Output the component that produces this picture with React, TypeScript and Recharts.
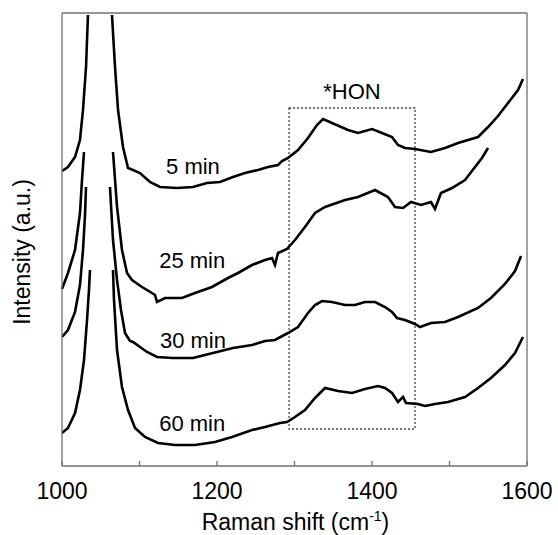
import { LineChart, Line, XAxis, YAxis, ReferenceArea, ReferenceLine, ReferenceDot } from "recharts"

const FONT = "'Liberation Sans', Arial, sans-serif"

// Raman shift (cm-1) and intensity (a.u., offset traces); null = clipped peak
const shift5 = [1000, 1007.7, 1016.8, 1023.2, 1027.1, 1031, 1033.5, 1049, 1064.5, 1068.4, 1072.3, 1078.7, 1085.2, 1091.6, 1100.6, 1113.5, 1126.5, 1148.4, 1169, 1187, 1203.9, 1220.6, 1236, 1252.9, 1265.8, 1278.7, 1283.9, 1291.6, 1304.5, 1317.4, 1329, 1336.8, 1348.4, 1369, 1382, 1400, 1412.9, 1425.8, 1433.5, 1442.6, 1455.5, 1476.1, 1494.2, 1511, 1536.8, 1549.7, 1562.6, 1575.5, 1588.4, 1594.8]
const int5 = [295, 299, 309, 326, 356, 399, 451, null, 451, 399, 356, 319, 298, 296, 293, 284, 279, 278, 279, 283, 284, 289, 293, 296, 299, 301, 305, 308, 316, 328, 341, 347, 343, 336, 333, 337, 333, 329, 321, 318, 317, 314, 318, 323, 329, 339, 350, 363, 376, 387]

const shift25 = [1000, 1007.7, 1016.8, 1023.2, 1025.8, 1028.4, 1047, 1065.8, 1071, 1077.4, 1083.9, 1090.3, 1103.2, 1114, 1120, 1122.6, 1132.9, 1154.8, 1171.6, 1193.5, 1214.2, 1227.1, 1245.2, 1261.9, 1271, 1274.8, 1278.7, 1290.3, 1300.6, 1313.5, 1326.5, 1339.4, 1365.2, 1382, 1403.9, 1420.6, 1429.7, 1440, 1450.3, 1463.2, 1476.1, 1481.3, 1489, 1503.2, 1520, 1532.9, 1541.9, 1549.7]
const int25 = [177, 193, 216, 253, 286, 314, null, 314, 259, 216, 193, 186, 179, 174, 171, 164, 168, 168, 173, 179, 188, 193, 201, 206, 208, 201, 213, 217, 226, 239, 253, 259, 266, 269, 276, 269, 259, 258, 264, 261, 264, 257, 273, 278, 286, 299, 308, 318]

const shift30 = [1000, 1007.7, 1016.8, 1023.2, 1027.1, 1029.7, 1031, 1046, 1061.9, 1065.8, 1071, 1076.1, 1081.3, 1087.7, 1091.6, 1109.7, 1122.6, 1143.2, 1169, 1194.8, 1220.6, 1245.2, 1261.9, 1274.8, 1291.6, 1304.5, 1317.4, 1326.5, 1335.5, 1348.4, 1365.2, 1378, 1391, 1403.9, 1416.8, 1425.8, 1432.3, 1442.6, 1455.5, 1461.9, 1476.1, 1494.2, 1511, 1536.8, 1553.5, 1571.6, 1584.5, 1592.3]
const int30 = [129, 136, 154, 181, 216, 251, 279, null, 279, 226, 186, 156, 133, 125, 124, 114, 109, 108, 108, 113, 118, 121, 125, 126, 133, 139, 153, 161, 165, 164, 161, 161, 164, 164, 159, 154, 148, 146, 142, 139, 143, 144, 149, 158, 168, 182, 195, 210]

const shift60 = [1000, 1007.7, 1016.8, 1023.2, 1028.4, 1032.3, 1034.8, 1036.1, 1051, 1065.8, 1067.1, 1071, 1077.4, 1085.2, 1094.2, 1107.1, 1123.9, 1145.8, 1171.6, 1197.4, 1219.4, 1245.2, 1261.9, 1281.3, 1290.3, 1300.6, 1313.5, 1326.5, 1339.4, 1356.1, 1374.2, 1391, 1407.7, 1416.8, 1425.8, 1433.5, 1440, 1443.9, 1459.4, 1468.4, 1481.3, 1498.1, 1520, 1536.8, 1553.5, 1571.6, 1584.5, 1594.8]
const int60 = [33, 38, 53, 76, 106, 146, 176, 196, null, 196, 166, 116, 79, 56, 38, 29, 23, 21, 21, 24, 29, 36, 39, 43, 44, 49, 56, 68, 78, 75, 73, 77, 80, 78, 73, 64, 69, 63, 62, 60, 62, 64, 69, 78, 88, 101, 113, 129]

const xTicks = [1000, 1100, 1200, 1300, 1400, 1500, 1600]
const timeLabels = ["5 min", "25 min", "30 min", "60 min"]
const hon = { label: "*HON", from: 1293, to: 1455.5 }

const zip = (xs: number[], ys: (number | null)[]) => xs.map((x, i) => ({ x, y: ys[i] }))

const series = [
    { name: "5 min", data: zip(shift5, int5) },
    { name: "25 min", data: zip(shift25, int25) },
    { name: "30 min", data: zip(shift30, int30) },
    { name: "60 min", data: zip(shift60, int60) },
]

// where the time labels sit (data coords)
const labelPos = [
    { x: 1169, y: 300 },
    { x: 1168, y: 206 },
    { x: 1169, y: 126 },
    { x: 1168, y: 43 },
]

const XLabel = (props: any) => {
    const vb = props.viewBox
    const cx = vb.x + vb.width / 2 + 1
    return (
        <text x={cx} y={vb.y + 64} textAnchor="middle" fontSize={23} fontFamily={FONT} fill="#000">
            Raman shift (cm<tspan fontSize={14} dy={-9}>-1</tspan><tspan dy={9}>)</tspan>
        </text>
    )
}

const YLabel = () => (
    <text x={30} y={252} transform="rotate(-90 30 252)" textAnchor="middle" fontSize={23} fontFamily={FONT} fill="#000">
        Intensity (a.u.)
    </text>
)

export default function App() {
    return (
        <div style={{ position: "absolute", left: 0, top: 0, background: "#fff" }}>
            <LineChart width={558} height={535} margin={{ top: 13, right: 31, left: 0, bottom: 0 }}>
                <XAxis
                    dataKey="x"
                    type="number"
                    domain={[1000, 1600]}
                    ticks={xTicks}
                    allowDuplicatedCategory={false}
                    tickFormatter={(v: number) => (v % 200 === 0 ? String(v) : "")}
                    tickSize={-5}
                    tickMargin={22}
                    height={69}
                    stroke="#707070"
                    strokeWidth={1.3}
                    tick={{ fill: "#000", fontSize: 23, fontFamily: FONT }}
                    label={{ content: XLabel }}
                />
                <YAxis
                    type="number"
                    domain={[0, 453]}
                    width={62}
                    tick={false}
                    tickLine={false}
                    stroke="#707070"
                    strokeWidth={1.3}
                    label={{ content: YLabel }}
                />
                <ReferenceLine y={453} stroke="#707070" strokeWidth={1.3} />
                <ReferenceLine x={1600} stroke="#707070" strokeWidth={1.3} />
                <ReferenceArea
                    x1={hon.from}
                    x2={hon.to}
                    y1={37}
                    y2={358}
                    fill="none"
                    fillOpacity={0}
                    stroke="#444"
                    strokeWidth={1.3}
                    strokeDasharray="2 2"
                    label={{ value: hon.label, position: "top", offset: 9, fontSize: 22, fontFamily: FONT, fill: "#000" }}
                />
                {series.map((s) => (
                    <Line
                        key={s.name}
                        data={s.data}
                        dataKey="y"
                        type="linear"
                        stroke="#000"
                        strokeWidth={2.6}
                        dot={false}
                        connectNulls={false}
                        isAnimationActive={false}
                    />
                ))}
                {timeLabels.map((t, i) => (
                    <ReferenceDot
                        key={t}
                        x={labelPos[i].x}
                        y={labelPos[i].y}
                        r={0}
                        fill="none"
                        stroke="none"
                        label={{ value: t, position: "center", fontSize: 22, fontFamily: FONT, fill: "#000" }}
                    />
                ))}
            </LineChart>
        </div>
    )
}
